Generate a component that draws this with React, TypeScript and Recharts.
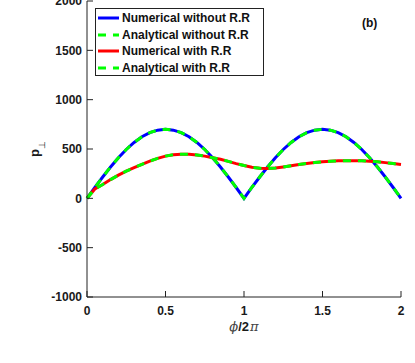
import React from "react";
import { Legend, Line, LineChart, XAxis, YAxis } from "recharts";

// phi / 2pi sample points
const phi = [
  0, 0.05, 0.1, 0.15, 0.2, 0.25, 0.3, 0.35, 0.4, 0.45, 0.5, 0.55, 0.6, 0.65,
  0.7, 0.75, 0.8, 0.85, 0.9, 0.95, 1, 1.05, 1.1, 1.15, 1.2, 1.25, 1.3, 1.35,
  1.4, 1.45, 1.5, 1.55, 1.6, 1.65, 1.7, 1.75, 1.8, 1.85, 1.9, 1.95, 2,
];

const numericalWithout = [
  0, 110, 216, 318, 411, 495, 566, 624, 666, 691, 700, 691, 666, 624, 566,
  495, 411, 318, 216, 110, 0, 110, 216, 318, 411, 495, 566, 624, 666, 691,
  700, 691, 666, 624, 566, 495, 411, 318, 216, 110, 0,
];

const analyticalWithout = [
  0, 110, 216, 318, 411, 495, 566, 624, 666, 691, 700, 691, 666, 624, 566,
  495, 411, 318, 216, 110, 0, 110, 216, 318, 411, 495, 566, 624, 666, 691,
  700, 691, 666, 624, 566, 495, 411, 318, 216, 110, 0,
];

const numericalWith = [
  0, 95, 140, 190, 235, 275, 310, 345, 378, 405, 428, 442, 448, 447, 440,
  428, 412, 396, 375, 352, 332, 315, 305, 302, 307, 318, 330, 342, 354, 363,
  370, 376, 380, 382, 382, 380, 376, 370, 362, 352, 342,
];

const analyticalWith = [
  0, 95, 140, 190, 235, 275, 310, 345, 378, 405, 428, 442, 448, 447, 440,
  428, 412, 396, 375, 352, 332, 315, 305, 302, 307, 318, 330, 342, 354, 363,
  370, 376, 380, 382, 382, 380, 376, 370, 362, 352, 342,
];

const xTicks = [0, 0.5, 1, 1.5, 2];
const yTicks = [-1000, -500, 0, 500, 1000, 1500, 2000];
const yMinorTicks = [
  -1000, -875, -750, -625, -500, -375, -250, -125, 0, 125, 250, 375, 500, 625,
  750, 875, 1000, 1125, 1250, 1375, 1500, 1625, 1750, 1875, 2000,
];

const data = phi.map((p, i) => ({
  phi: p,
  nw: numericalWithout[i],
  aw: analyticalWithout[i],
  nr: numericalWith[i],
  ar: analyticalWith[i],
}));

const series = [
  { key: "nw", name: "Numerical without R.R", color: "#0000ff", dashed: false },
  { key: "aw", name: "Analytical without R.R", color: "#00ff00", dashed: true },
  { key: "nr", name: "Numerical with R.R", color: "#ff0000", dashed: false },
  { key: "ar", name: "Analytical with R.R", color: "#00ff00", dashed: true },
];

const FONT = "'Liberation Sans', Arial, Helvetica, sans-serif";
const DASH = "8 7";
const tickStyle = { fontSize: 12, fontWeight: "bold", fill: "#1a1a1a", fontFamily: FONT };
const lineStyle = { stroke: "#222" };
const noLabel = () => <g />;

// absolutely positioned so the legend wrapper takes no room from the plot
const LegendBox = () => (
  <div
    style={{
      position: "absolute",
      left: 0,
      top: 0,
      boxSizing: "border-box",
      width: 169,
      height: 68,
      border: "1px solid #222",
      background: "#fff",
      padding: "1px 0 0 2px",
      fontFamily: FONT,
      fontWeight: "bold",
      fontSize: 12,
      color: "#111",
    }}
  >
    {series.map((s) => (
      <div key={s.key} style={{ display: "flex", alignItems: "center", height: 16.5 }}>
        <svg width={22} height={4} style={{ display: "block" }}>
          <line
            x1={0}
            y1={2}
            x2={21}
            y2={2}
            stroke={s.color}
            strokeWidth={3}
            strokeDasharray={s.dashed ? DASH : undefined}
          />
        </svg>
        <span style={{ marginLeft: 2, whiteSpace: "nowrap" }}>{s.name}</span>
      </div>
    ))}
  </div>
);

const XTitle = (props: any) => {
  const { viewBox } = props;
  const cx = viewBox.x + viewBox.width / 2;
  return (
    <text x={cx} y={viewBox.y + 34} textAnchor="middle" fill="#1a1a1a" fontSize={13}>
      <tspan fontFamily="'DejaVu Serif', serif" fontStyle="italic" fill="#444">ϕ</tspan>
      <tspan fontFamily={FONT} fontWeight="bold">/2</tspan>
      <tspan fontFamily="'DejaVu Serif', serif" fontStyle="italic" fill="#444" dx={1}>π</tspan>
    </text>
  );
};

const YTitle = (props: any) => {
  const { viewBox } = props;
  const cy = viewBox.y + viewBox.height / 2;
  const bx = viewBox.x + 12;
  return (
    <text transform={`translate(${bx},${cy}) rotate(-90)`} textAnchor="middle" fill="#1a1a1a">
      <tspan fontFamily={FONT} fontWeight="bold" fontSize={13}>p</tspan>
      <tspan fontFamily="'DejaVu Sans', sans-serif" fontSize={9} dy={6}>⊥</tspan>
    </text>
  );
};

export default function App() {
  return (
    <div style={{ position: "absolute", left: 0, top: 0, width: 415, height: 363, background: "#fff" }}>
      <LineChart
        width={415}
        height={363}
        data={data}
        margin={{ top: 1, right: 14, bottom: 26, left: 27 }}
      >
        {/* minor tick axes (drawn first so they sit on the frame) */}
        <XAxis
          xAxisId="xminor"
          dataKey="phi"
          type="number"
          domain={[0, 2]}
          ticks={phi}
          interval={0}
          height={0}
          tick={noLabel}
          tickSize={-3}
          axisLine={false}
          tickLine={lineStyle}
        />
        <YAxis
          yAxisId="yminor"
          type="number"
          domain={[-1000, 2000]}
          ticks={yMinorTicks}
          interval={0}
          width={0}
          tick={noLabel}
          tickSize={-3}
          axisLine={false}
          tickLine={lineStyle}
        />
        <XAxis
          xAxisId="x"
          dataKey="phi"
          type="number"
          domain={[0, 2]}
          ticks={xTicks}
          interval={0}
          height={40}
          tick={tickStyle}
          tickSize={-6}
          tickMargin={15}
          axisLine={lineStyle}
          tickLine={lineStyle}
          label={{ content: XTitle }}
        />
        <YAxis
          yAxisId="y"
          type="number"
          domain={[-1000, 2000]}
          ticks={yTicks}
          interval={0}
          width={60}
          tick={tickStyle}
          tickSize={-6}
          tickMargin={11}
          axisLine={lineStyle}
          tickLine={lineStyle}
          label={{ content: YTitle }}
        />
        {/* mirrored frame on top / right */}
        <XAxis
          xAxisId="xtop"
          orientation="top"
          dataKey="phi"
          type="number"
          domain={[0, 2]}
          ticks={xTicks}
          interval={0}
          height={0}
          tick={noLabel}
          tickSize={-6}
          axisLine={lineStyle}
          tickLine={lineStyle}
        />
        <XAxis
          xAxisId="xtopminor"
          orientation="top"
          dataKey="phi"
          type="number"
          domain={[0, 2]}
          ticks={phi}
          interval={0}
          height={0}
          tick={noLabel}
          tickSize={-3}
          axisLine={false}
          tickLine={lineStyle}
        />
        <YAxis
          yAxisId="yright"
          orientation="right"
          type="number"
          domain={[-1000, 2000]}
          ticks={yTicks}
          interval={0}
          width={0}
          tick={noLabel}
          tickSize={-6}
          axisLine={lineStyle}
          tickLine={lineStyle}
        />
        <YAxis
          yAxisId="yrightminor"
          orientation="right"
          type="number"
          domain={[-1000, 2000]}
          ticks={yMinorTicks}
          interval={0}
          width={0}
          tick={noLabel}
          tickSize={-3}
          axisLine={false}
          tickLine={lineStyle}
        />
        <Legend content={<LegendBox />} wrapperStyle={{ left: 95, top: 8 }} />
        {series.map((s) => (
          <Line
            key={s.key}
            xAxisId="x"
            yAxisId="y"
            type="linear"
            dataKey={s.key}
            name={s.name}
            stroke={s.color}
            strokeWidth={3}
            strokeDasharray={s.dashed ? DASH : undefined}
            dot={false}
            activeDot={false}
            isAnimationActive={false}
          />
        ))}
      </LineChart>
      <div
        style={{
          position: "absolute",
          left: 362,
          top: 16,
          fontFamily: FONT,
          fontWeight: "bold",
          fontSize: 12,
          lineHeight: "14px",
          color: "#111",
        }}
      >
        (b)
      </div>
    </div>
  );
}
